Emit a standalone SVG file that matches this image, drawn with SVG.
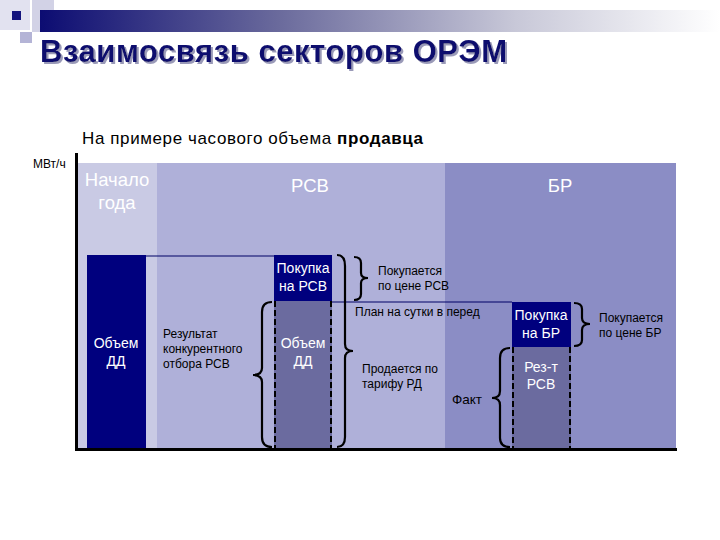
<svg xmlns="http://www.w3.org/2000/svg" width="720" height="540" viewBox="0 0 720 540">
<defs>
<linearGradient id="band" x1="0" y1="0" x2="1" y2="0">
<stop offset="0" stop-color="#0c0c72"/>
<stop offset="0.35" stop-color="#6a6a9c"/>
<stop offset="0.7" stop-color="#c8c8d8"/>
<stop offset="1" stop-color="#ffffff"/>
</linearGradient>
<filter id="shadow" x="-5%" y="-20%" width="110%" height="150%">
<feDropShadow dx="2" dy="2" stdDeviation="0.6" flood-color="#9a9ab8" flood-opacity="1"/>
</filter>
<style>
.t{font-family:"Liberation Sans",Arial,sans-serif}
.w{fill:#ffffff}
.k{fill:#000000}
.sm{font-size:12px}
.md{font-size:14px}
.lg{font-size:18.5px}
.navy{fill:#00007e}
.dd{fill:#6b6b9f}
.dash{stroke:#000;stroke-width:2;stroke-dasharray:6,3;fill:none}
.br{stroke:#000;stroke-width:2.2;fill:none}
.ln{stroke:#000066;stroke-width:1.2}
</style>
</defs>
<rect width="720" height="540" fill="#ffffff"/>
<g id="header">
<rect x="0" y="0" width="30" height="30" fill="#e2e2f0"/>
<rect x="32" y="0" width="22" height="32" fill="#d2d2e6"/>
<rect x="20" y="32" width="12" height="11" fill="#b4b4d6"/>
<rect x="40" y="10" width="680" height="22" fill="url(#band)"/>
<rect x="12" y="11" width="9" height="9" fill="#14147e"/>
<text class="t" x="40" y="62" font-size="31" font-weight="bold" fill="#0c0c6e" textLength="467" filter="url(#shadow)">Взаимосвязь секторов ОРЭМ</text>
</g>
<text class="t" x="82" y="144" font-size="17" fill="#000" textLength="341">На примере часового объема <tspan font-weight="bold">продавца</tspan></text>
<text class="t k" x="33" y="168" font-size="12">МВт/ч</text>
<g id="zones">
<rect x="78" y="163" width="79" height="286" fill="#c9cae4"/>
<rect x="157" y="163" width="288" height="286" fill="#afb0d9"/>
<rect x="445" y="163" width="231" height="286" fill="#8b8dc5"/>
<text class="t w lg" x="117" y="186" text-anchor="middle">Начало</text>
<text class="t w lg" x="117" y="209" text-anchor="middle">года</text>
<text class="t w lg" x="310" y="192" text-anchor="middle">РСВ</text>
<text class="t w lg" x="560" y="192" text-anchor="middle">БР</text>
</g>
<g id="axes">
<line x1="76.5" y1="153" x2="76.5" y2="451" stroke="#000" stroke-width="3"/>
<line x1="75" y1="449.5" x2="677" y2="449.5" stroke="#000" stroke-width="3"/>
</g>
<g id="connectors">
<line class="ln" x1="146" y1="256" x2="274" y2="256"/>
<line class="ln" x1="332" y1="302" x2="512" y2="302"/>
</g>
<g id="n-dd1">
<rect x="87" y="255" width="59" height="193" class="navy"/>
<text class="t w md" x="116" y="348" text-anchor="middle">Объем</text>
<text class="t w md" x="116" y="366" text-anchor="middle">ДД</text>
</g>
<g id="n-result">
<text class="t k sm" x="163" y="338">Результат</text>
<text class="t k sm" x="163" y="353">конкурентного</text>
<text class="t k sm" x="163" y="368">отбора РСВ</text>
</g>
<g id="n-buy-rsv">
<rect x="274" y="255" width="58" height="46" class="navy"/>
<text class="t w md" x="303" y="273" text-anchor="middle">Покупка</text>
<text class="t w md" x="303" y="291" text-anchor="middle">на РСВ</text>
</g>
<g id="n-dd2">
<rect x="274" y="301" width="58" height="147" class="dd"/>
<line class="dash" x1="275" y1="301" x2="275" y2="448"/>
<line class="dash" x1="331" y1="301" x2="331" y2="448"/>
<text class="t w md" x="303" y="348" text-anchor="middle">Объем</text>
<text class="t w md" x="303" y="366" text-anchor="middle">ДД</text>
</g>
<g id="n-buy-br">
<rect x="512" y="302" width="59" height="45" class="navy"/>
<text class="t w md" x="541" y="320" text-anchor="middle">Покупка</text>
<text class="t w md" x="541" y="338" text-anchor="middle">на БР</text>
</g>
<g id="n-rez">
<rect x="512" y="347" width="59" height="101" class="dd"/>
<line class="dash" x1="513" y1="347" x2="513" y2="448"/>
<line class="dash" x1="570" y1="347" x2="570" y2="448"/>
<text class="t w md" x="541" y="372" text-anchor="middle">Рез-т</text>
<text class="t w md" x="541" y="389" text-anchor="middle">РСВ</text>
</g>
<g id="braces">
<path class="br" d="M272,302 Q262,302 262,312 L262,368 Q262,375 253,375 Q262,375 262,382 L262,437 Q262,447 272,447"/>
<path class="br" d="M337,255 Q345,255 345,266 L345,344 Q345,351 353,351 Q345,351 345,358 L345,437 Q345,447 337,447"/>
<path class="br" d="M354,257 Q361,257 361,263 L361,273 Q361,278 368,278 Q361,278 361,283 L361,294 Q361,300 354,300"/>
<path class="br" d="M574,303 Q582,303 582,309 L582,318 Q582,324 590,324 Q582,324 582,330 L582,340 Q582,346 574,346"/>
<path class="br" d="M510,348 Q500,348 500,358 L500,391 Q500,398 492,398 Q500,398 500,405 L500,438 Q500,447 510,447"/>
</g>
<g id="labels">
<text class="t k sm" x="378" y="275">Покупается</text>
<text class="t k sm" x="378" y="290">по цене РСВ</text>
<text class="t k sm" x="355" y="316">План на сутки в перед</text>
<text class="t k sm" x="599" y="322">Покупается</text>
<text class="t k sm" x="599" y="337">по цене БР</text>
<text class="t k sm" x="362" y="373">Продается по</text>
<text class="t k sm" x="362" y="388">тарифу РД</text>
<text class="t k" x="452" y="404" font-size="13.5">Факт</text>
</g>
</svg>
